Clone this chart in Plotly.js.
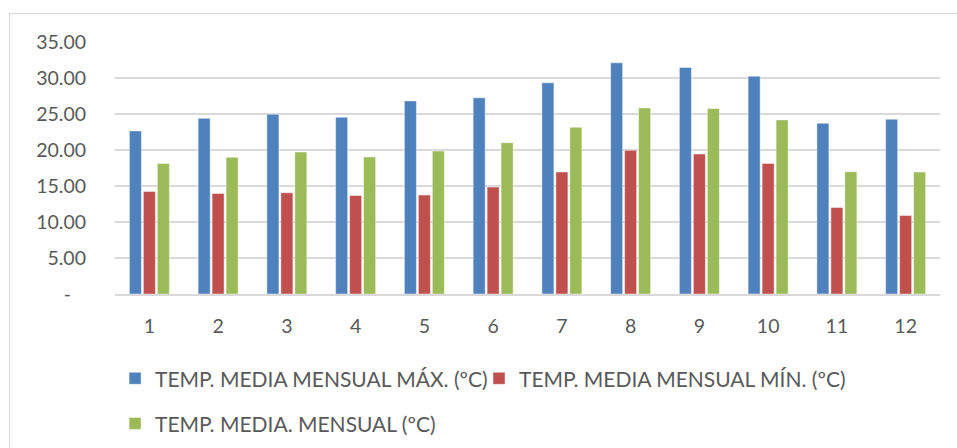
<!DOCTYPE html>
<html>
<head>
<meta charset="utf-8">
<script src="https://cdn.plot.ly/plotly-3.0.1.min.js"></script>
<style>
html,body{margin:0;padding:0;width:957px;height:448px;overflow:hidden;background:#fff;}
#frame{position:absolute;left:9px;top:13px;width:2000px;height:2000px;border:1.5px solid #d9d9d9;box-sizing:border-box;}
#chart{position:absolute;left:0;top:0;width:957px;height:448px;}
</style>
</head>
<body>
<div id="frame"></div>
<div id="chart"></div>
<script>
const months = ['1','2','3','4','5','6','7','8','9','10','11','12'];
const tempMax = [22.65, 24.4, 24.97, 24.55, 26.82, 27.24, 29.33, 32.11, 31.46, 30.26, 23.71, 24.27];
const tempMin = [14.25, 13.97, 14.06, 13.69, 13.74, 14.85, 16.94, 19.95, 19.44, 18.14, 12.02, 10.9];
const tempMedia = [18.14, 18.98, 19.72, 19.03, 19.86, 21.02, 23.16, 25.85, 25.75, 24.18, 16.98, 16.94];
const seriesNames = ['TEMP. MEDIA MENSUAL MÁX. (ºC)', 'TEMP. MEDIA MENSUAL MÍN. (ºC)', 'TEMP. MEDIA. MENSUAL (ºC)'];
const yTickVals = [0, 5, 10, 15, 20, 25, 30, 35];
const yTickText = ['-\u00a0\u00a0\u00a0', '5.00', '10.00', '15.00', '20.00', '25.00', '30.00', '35.00'];

const FONT = 'Lato, "Liberation Sans", sans-serif';
const TXT = '#595959';
const lineStyle = {color: 'rgba(255,255,255,0.6)', width: 0.75};

const data = [
  {type: 'bar', x: months, y: tempMax, name: seriesNames[0], marker: {color: '#4F81BD', line: lineStyle}, legend: 'legend'},
  {type: 'bar', x: months, y: tempMin, name: seriesNames[1], marker: {color: '#C0504D', line: lineStyle}, legend: 'legend3'},
  {type: 'bar', x: months, y: tempMedia, name: seriesNames[2], marker: {color: '#9BBB59', line: lineStyle}, legend: 'legend2'}
];

const legendFont = {family: FONT, size: 21, color: TXT};
const tickFont = {family: FONT, size: 19.5, color: TXT};

function leg(x, y) {
  return {
    orientation: 'h', x: x, xanchor: 'left', y: y, yanchor: 'middle',
    font: legendFont, bgcolor: 'rgba(0,0,0,0)', itemclick: false
  };
}

const layout = {
  width: 957, height: 448,
  margin: {l: 115, r: 17, t: 42, b: 154, autoexpand: false},
  paper_bgcolor: 'rgba(0,0,0,0)',
  plot_bgcolor: 'rgba(0,0,0,0)',
  font: {family: FONT, size: 16, color: TXT},
  barmode: 'group',
  bargap: 0.39,
  bargroupgap: 0.14,
  xaxis: {
    type: 'category',
    showgrid: false,
    showline: true, linecolor: '#d9d9d9', linewidth: 1.5,
    ticks: '', ticklabelstandoff: 14,
    tickfont: tickFont,
    fixedrange: true
  },
  yaxis: {
    range: [0, 35],
    tickvals: yTickVals, ticktext: yTickText,
    showgrid: true, gridcolor: '#d9d9d9', gridwidth: 1.5,
    zeroline: false, showline: false,
    ticks: '', ticklabelstandoff: 28,
    tickfont: tickFont,
    fixedrange: true
  },
  showlegend: true,
  legend: leg(0.0001, -0.336),
  legend3: leg(0.4412, -0.336),
  legend2: leg(0.0001, -0.515)
};

Plotly.newPlot('chart', data, layout, {displayModeBar: false, staticPlot: true});
</script>
</body>
</html>
